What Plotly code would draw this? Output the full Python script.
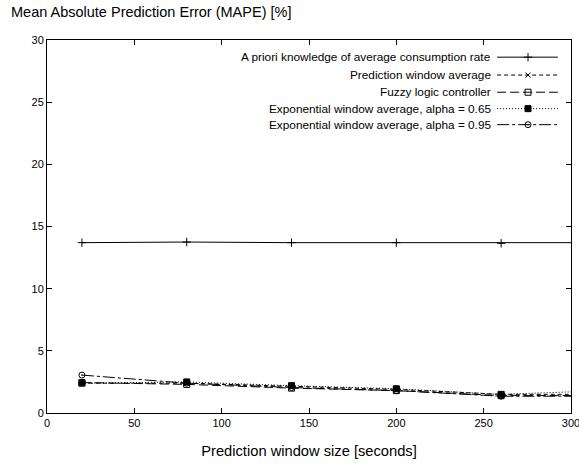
import plotly.graph_objects as go

window_size = [20, 80, 140, 200, 260, 320]
a_priori = [13.7, 13.75, 13.7, 13.7, 13.65, 13.7]
pred_window_avg = [2.4, 2.4, 2.15, 1.9, 1.5, 1.5]
fuzzy = [2.45, 2.3, 2.0, 1.8, 1.4, 1.4]
exp_065 = [2.4, 2.5, 2.2, 1.95, 1.5, 1.8]
exp_095 = [3.05, 2.4, 2.05, 1.8, 1.35, 1.35]

series_names = [
    "A priori knowledge of average consumption rate",
    "Prediction window average",
    "Fuzzy logic controller",
    "Exponential window average, alpha = 0.65",
    "Exponential window average, alpha = 0.95",
]
series_values = [a_priori, pred_window_avg, fuzzy, exp_065, exp_095]
dashes = ["solid", "4px,3px", "9px,4px", "1px,2px", "12px,3px,3px,3px"]
symbols = ["cross-thin-open", "x-thin-open", "square-open", "square", "circle-open-dot"]
msizes = [6, 5, 6, 6, 6]

fig = go.Figure()
font = "Liberation Sans, Arial, sans-serif"

for name, vals, d, s, ms in zip(series_names, series_values, dashes, symbols, msizes):
    fig.add_trace(go.Scatter(
        x=window_size, y=vals, mode="lines+markers", name=name,
        line=dict(color="black", width=1, dash=d),
        marker=dict(symbol=s, size=ms, color="black", line=dict(color="black", width=1)),
        showlegend=False,
    ))

# manual legend (text right-aligned, sample at right), on a hidden overlay axis
leg_y = [0.954, 0.906, 0.860, 0.816, 0.773]
for i, (name, d, s, ms) in enumerate(zip(series_names, dashes, symbols, msizes)):
    fig.add_trace(go.Scatter(
        x=[0.859, 0.975], y=[leg_y[i]] * 2, mode="lines",
        xaxis="x2", yaxis="y2", showlegend=False, hoverinfo="skip",
        line=dict(color="black", width=1, dash=d), cliponaxis=False,
    ))
    fig.add_trace(go.Scatter(
        x=[0.918], y=[leg_y[i]], mode="markers",
        xaxis="x2", yaxis="y2", showlegend=False, hoverinfo="skip",
        marker=dict(symbol=s, size=ms, color="black", line=dict(color="black", width=1)),
        cliponaxis=False,
    ))
    fig.add_annotation(
        x=0.851, y=leg_y[i], xref="x2", yref="y2", text=name, showarrow=False,
        xanchor="right", yanchor="middle", font=dict(family=font, size=11.8, color="black"),
    )

fig.add_annotation(
    x=-0.072, y=1.075, xref="paper", yref="paper", text="Mean Absolute Prediction Error (MAPE) [%]",
    showarrow=False, xanchor="left", yanchor="middle",
    font=dict(family=font, size=14.5, color="black"),
)

fig.update_layout(
    width=579, height=464,
    margin=dict(l=47, r=8, t=40, b=51, autoexpand=False),
    paper_bgcolor="white", plot_bgcolor="white",
    font=dict(family=font, size=11, color="black"),
    xaxis=dict(
        range=[0, 300], tickvals=[0, 50, 100, 150, 200, 250, 300],
        ticks="inside", ticklen=5, tickcolor="black", mirror="ticks",
        showline=True, linecolor="black", linewidth=1, showgrid=False, zeroline=False,
        title=dict(text="Prediction window size [seconds]", font=dict(size=14.7), standoff=17),
        tickfont=dict(size=11), ticklabeloverflow="allow", automargin=False,
    ),
    yaxis=dict(
        range=[0, 30], tickvals=[0, 5, 10, 15, 20, 25, 30],
        ticks="inside", ticklen=5, tickcolor="black", mirror="ticks",
        showline=True, linecolor="black", linewidth=1, showgrid=False, zeroline=False,
        tickfont=dict(size=11), automargin=False,
    ),
    xaxis2=dict(domain=[0, 1], range=[0, 1], visible=False, overlaying="x"),
    yaxis2=dict(domain=[0, 1], range=[0, 1], visible=False, overlaying="y"),
)

fig.write_html("out.html", config={"displayModeBar": False},
               post_script="document.body.style.margin='0';")
